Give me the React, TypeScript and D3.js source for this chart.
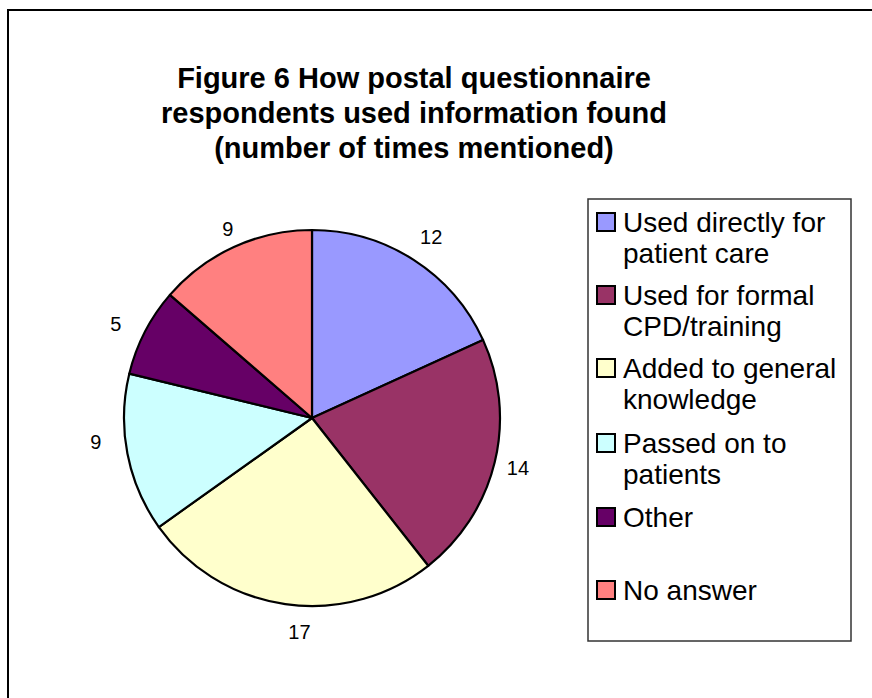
import React from "react";
import * as d3 from "d3";

const categories = [
  "Used directly for|patient care",
  "Used for formal|CPD/training",
  "Added to general|knowledge",
  "Passed on to|patients",
  "Other",
  "No answer",
];
const values = [12, 14, 17, 9, 5, 9];
const colors = ["#9999FF", "#993366", "#FFFFCC", "#CCFFFF", "#660066", "#FF8080"];
const titleLines = [
  "Figure 6 How postal questionnaire",
  "respondents used information found",
  "(number of times mentioned)",
];
// label nudges (style only)
const labelNudge: [number, number][] = [
  [3, 0],
  [-3, -1],
  [18, 1],
  [-5, -17],
  [-5, 5],
  [5, 7],
];

const FONT = "'Liberation Sans', Arial, Helvetica, sans-serif";

export default function App() {
  const W = 872;
  const H = 698;
  const cx = 312;
  const cy = 418;
  const r = 188;
  const labelR = 215;

  const pie = d3.pie<number>().sort(null).value((d) => d).startAngle(0).endAngle(2 * Math.PI);
  const arcs = pie(values);
  const arcGen = d3.arc<d3.PieArcDatum<number>>().innerRadius(0).outerRadius(r);
  const labelArc = d3.arc<d3.PieArcDatum<number>>().innerRadius(labelR).outerRadius(labelR);

  const legendY = [222, 295, 368, 443, 517, 590];

  return (
    <svg
      width={W}
      height={H}
      style={{ position: "absolute", left: 0, top: 0, background: "#fff" }}
      fontFamily={FONT}
    >
      <rect x={0} y={0} width={W} height={H} fill="#fff" />
      <rect x={8} y={10} width={W + 20} height={H + 20} fill="none" stroke="#000" strokeWidth={2} />
      {titleLines.map((t, i) => (
        <text
          key={i}
          x={414}
          y={78 + i * 35}
          textAnchor="middle"
          dominantBaseline="central"
          fontWeight="bold"
          fontSize={29}
          fill="#000"
        >
          {t}
        </text>
      ))}
      <g transform={`translate(${cx},${cy})`}>
        {arcs.map((a, i) => (
          <path key={i} d={arcGen(a) || ""} fill={colors[i]} stroke="#000" strokeWidth={2.2} strokeLinejoin="round" />
        ))}
        {arcs.map((a, i) => {
          const [x, y] = labelArc.centroid(a);
          return (
            <text
              key={"l" + i}
              x={x + labelNudge[i][0]}
              y={y + labelNudge[i][1]}
              textAnchor="middle"
              dominantBaseline="central"
              fontSize={20}
              fill="#000"
            >
              {values[i]}
            </text>
          );
        })}
      </g>
      <rect x={588} y={199} width={263} height={442} fill="#fff" stroke="#333" strokeWidth={1.5} />
      {categories.map((c, i) => {
        const lines = c.split("|");
        const y0 = legendY[i];
        return (
          <g key={"g" + i}>
            <rect x={597} y={y0 - 9} width={18} height={18} fill={colors[i]} stroke="#000" strokeWidth={2} />
            {lines.map((ln, j) => (
              <text
                key={j}
                x={623}
                y={y0 + j * 31}
                dominantBaseline="central"
                fontSize={28}
                fill="#000"
              >
                {ln}
              </text>
            ))}
          </g>
        );
      })}
    </svg>
  );
}
